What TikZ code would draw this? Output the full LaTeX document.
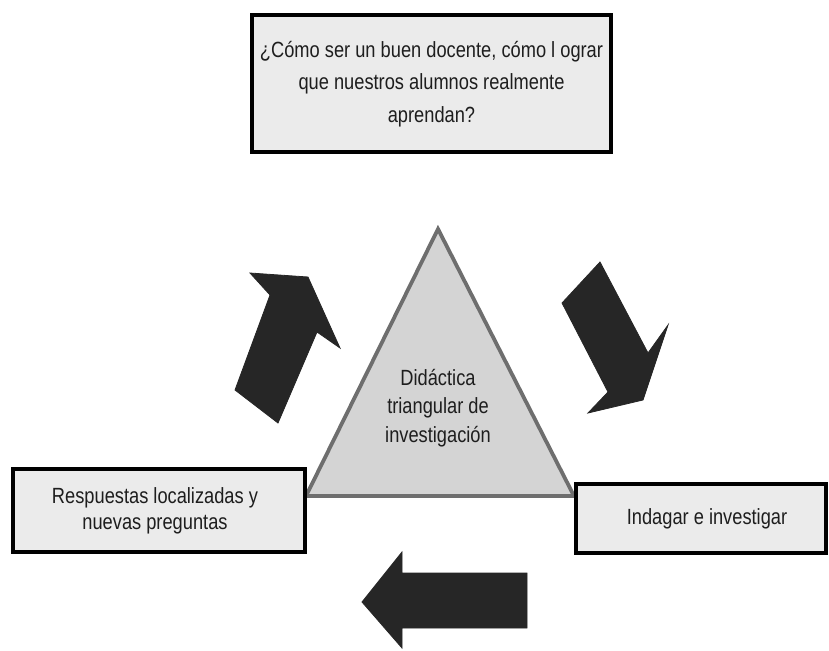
\documentclass[tikz,border=0pt]{standalone}
\usepackage{fontspec}
\setmainfont[FakeStretch=0.83]{Liberation Sans}
\usepackage{tikz}

\definecolor{boxgray}{HTML}{EBEBEB}
\definecolor{trigray}{HTML}{D4D4D4}
\definecolor{triedge}{HTML}{6E6E6E}
\definecolor{arrowdark}{HTML}{262626}
\definecolor{textdark}{HTML}{1E1E1E}

\tikzset{
  box/.style={draw=black, line width=3.2pt, fill=boxgray, align=center,
    text=textdark, inner sep=0pt},
  blockarrow/.style={fill=arrowdark, draw=arrowdark, line width=0.8pt, line join=miter}
}

\begin{document}
\begin{tikzpicture}[x=1pt, y=-1pt, font=\fontsize{22}{32.5}\selectfont]

      \useasboundingbox (0,0) rectangle (829,650);

      % triangle in the middle
      \coordinate (apex) at (438,229);
      \coordinate (baseL) at (306,496);
      \coordinate (baseR) at (574,496);
      \draw [fill=trigray, draw=triedge, line width=3.8pt, line join=miter]
            (apex) -- (baseR) -- (baseL) -- cycle;
      \node (centre) [align=center, text=textdark, font=\fontsize{22}{28.5}\selectfont]
            at (438,408) {Didáctica\\triangular de\\investigación};

      % question box
      \node (question) [box, minimum width=359pt, minimum height=137pt]
            at (431.5,83.5) {\raisebox{4pt}{\begin{tabular}{@{}c@{}}¿Cómo ser un buen docente, cómo l ograr\\que nuestros alumnos realmente\\aprendan?\end{tabular}}};

      % answer box
      \node (answers) [box, minimum width=292pt, minimum height=83pt,
            font=\fontsize{22}{26}\selectfont]
            at (159,510.5) {\hspace{-8pt}Respuestas localizadas y\\\hspace{-8pt}nuevas preguntas};

      % research box
      \node (inquire) [box, minimum width=250pt, minimum height=69pt]
            at (701,518.5) {\hspace{12pt}Indagar e investigar};

      % block arrows
      \fill [blockarrow] (600,262) -- (648,353) -- (668,325) -- (643,400)
            -- (588,413) -- (608,392) -- (562,303) -- cycle;

      \fill [blockarrow] (527,573) -- (402,573) -- (402,552) -- (362,602)
            -- (402,648) -- (402,628) -- (527,628) -- cycle;

      \fill [blockarrow] (278,423) -- (317,332) -- (340,348) -- (308,277)
            -- (250,273) -- (270,295) -- (235,390) -- cycle;

\end{tikzpicture}
\end{document}
